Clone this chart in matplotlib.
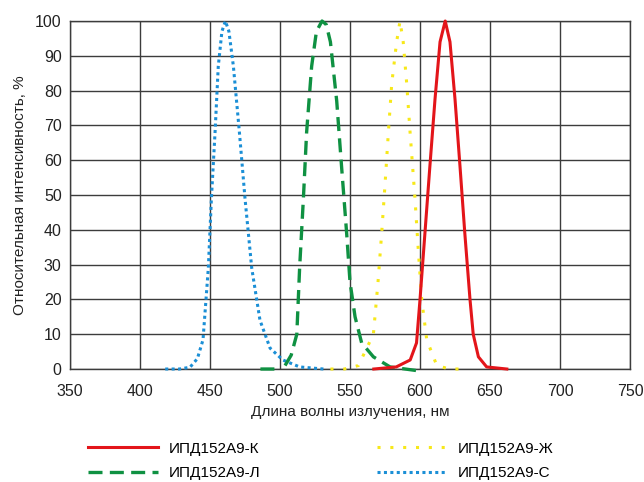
import matplotlib.pyplot as plt

plt.rcParams['font.family'] = ['Liberation Sans', 'DejaVu Sans']

# spectra: wavelength (nm), relative intensity (%)
red_x = [567, 583, 593, 597.5, 600, 603.5, 607, 610.7, 614.3, 618, 621.4, 625, 628.6, 632, 635.7, 638, 641.7, 647.6, 662]
red_y = [0, 0.6, 2.6, 7.5, 20, 39, 58, 77.5, 94, 100, 94, 77.5, 58, 39, 20, 10, 3.5, 0.6, 0]

green_x = [486, 496, None, 503.6, 508, 512, 514, 516.7, 519, 522.6, 526, 530, 533, 536, 540.5, 544, 547.6, 550, 553.6, 558.3, 566.7, 578.6, 598.5]
green_y = [0, 0, None, 1, 4, 10, 29, 49, 68, 87, 97, 100, 99, 94, 77, 58, 39, 25, 15, 7.5, 3.5, 0.6, -0.5]

yellow_x = [536, 546, 556, 566.7, 570, 572.6, 575, 577.4, 579.8, 583.3, 585.7, 588, 590.5, 592.9, 596.4, 598.8, 601.2, 604.8, 612, 621, 631]
yellow_y = [0, 0, 1, 10, 25, 39, 53, 68, 82, 94, 100, 94, 82, 68, 49, 34, 20, 8.4, 1, 0, 0]

blue_x = [418, 428, 435.7, 441, 445, 448.8, 451, 453.6, 455.9, 458.5, 461, 463.5, 466.7, 471, 475, 479.8, 485.7, 492.9, 502, 514, 531]
blue_y = [0, 0, 0.5, 3, 8.4, 29, 49, 68, 87, 97, 100, 97, 87, 68, 49, 29, 14, 6, 2.6, 0.6, 0]

labels = ['ИПД152А9-К', 'ИПД152А9-Л', 'ИПД152А9-Ж', 'ИПД152А9-С']

fig = plt.figure(figsize=(6.44, 4.82), dpi=100)
ax = fig.add_axes([0.1087, 0.2344, 0.8696, 0.722])

gx = [v if v is not None else float('nan') for v in green_x]
gy = [v if v is not None else float('nan') for v in green_y]

l1, = ax.plot(red_x, red_y, color='#e3151a', lw=2.2, clip_on=False, zorder=5)
l2, = ax.plot(gx, gy, color='#0f9142', lw=2.4, dashes=(4.2, 2.2), clip_on=False, zorder=4)
l3, = ax.plot(yellow_x, yellow_y, color='#f7e81a', lw=2.2, ls=(0, (1, 3.2)), clip_on=False, zorder=3)
l4, = ax.plot(blue_x, blue_y, color='#1b8fd6', lw=2.2, ls=(0, (1, 1.1)), clip_on=False, zorder=3)

ax.set_xlim(350, 750)
ax.set_ylim(0, 100)
ax.set_xticks(range(350, 751, 50))
ax.set_yticks(range(0, 101, 10))
ax.grid(True, color='#3c3c3c', lw=1)
ax.set_axisbelow(True)
for s in ax.spines.values():
    s.set_color('#3c3c3c')
    s.set_linewidth(1)
ax.tick_params(length=0, labelsize=11.5, colors='#222222')
ax.tick_params(axis='x', pad=11)
ax.tick_params(axis='y', pad=6)
ax.set_xlabel('Длина волны излучения, нм', fontsize=11, color='#222222', labelpad=4)
ax.set_ylabel('Относительная интенсивность, %', fontsize=11, color='#222222', labelpad=6)

fig.legend([l1, l2, l3, l4], labels, ncol=2, frameon=False, fontsize=11,
           loc='lower left', bbox_to_anchor=(0.115, -0.025),
           handlelength=4.6, handletextpad=0.7, columnspacing=7.6, labelspacing=0.7)

fig.savefig('out.png', dpi=100)
